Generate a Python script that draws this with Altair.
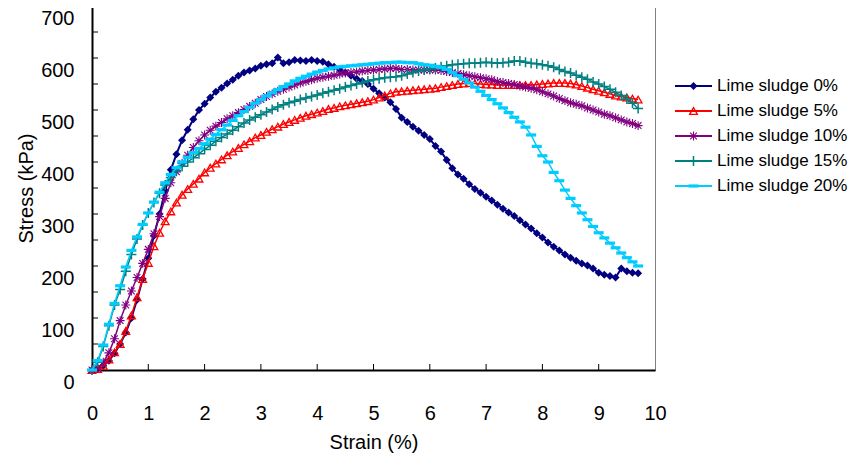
import altair as alt
import pandas as pd

STRAIN = [0.0, 0.1, 0.2, 0.3, 0.4, 0.5, 0.6, 0.7, 0.8, 0.9,
          1.0, 1.1, 1.2, 1.3, 1.4, 1.5, 1.6, 1.7, 1.8, 1.9,
          2.0, 2.1, 2.2, 2.3, 2.4, 2.5, 2.6, 2.7, 2.8, 2.9,
          3.0, 3.1, 3.2, 3.3, 3.4, 3.5, 3.6, 3.7, 3.8, 3.9,
          4.0, 4.1, 4.2, 4.3, 4.4, 4.5, 4.6, 4.7, 4.8, 4.9,
          5.0, 5.1, 5.2, 5.3, 5.4, 5.5, 5.6, 5.7, 5.8, 5.9,
          6.0, 6.1, 6.2, 6.3, 6.4, 6.5, 6.6, 6.7, 6.8, 6.9,
          7.0, 7.1, 7.2, 7.3, 7.4, 7.5, 7.6, 7.7, 7.8, 7.9,
          8.0, 8.1, 8.2, 8.3, 8.4, 8.5, 8.6, 8.7, 8.8, 8.9,
          9.0, 9.1, 9.2, 9.3, 9.4, 9.5, 9.6, 9.7]

S0 = [0, 3, 8, 18, 32, 50, 72, 100, 135, 175,
      215, 258, 300, 345, 385, 415, 442, 462, 482, 500,
      512, 524, 535, 543, 551, 558, 566, 572, 576, 580,
      585, 588, 590, 601, 590, 592, 596, 595, 594, 596,
      594, 593, 588, 583, 578, 572, 566, 560, 556, 550,
      541, 532, 524, 515, 502, 485, 477, 468, 460, 452,
      444, 431, 420, 404, 388, 376, 368, 357, 348, 341,
      333, 326, 318, 310, 303, 296, 288, 280, 272, 263,
      255, 245, 237, 230, 222, 216, 210, 205, 201, 195,
      187, 183, 181, 178, 195, 190, 187, 186]

S5 = [0, 2, 8, 20, 34, 50, 75, 105, 140, 175,
      206, 238, 264, 286, 305, 322, 337, 348, 358, 368,
      380, 389, 397, 405, 413, 420, 427, 434, 440, 447,
      452, 458, 463, 468, 473, 477, 481, 485, 489, 492,
      495, 498, 502, 504, 507, 509, 511, 513, 515, 517,
      520, 524, 528, 532, 535, 536, 537, 538, 539, 540,
      541, 542, 544, 546, 548, 550, 551, 552, 551, 550,
      549, 549, 548, 548, 548, 548, 548, 548, 548, 549,
      550, 551, 552, 552, 552, 551, 549, 546, 543, 540,
      537, 534, 531, 528, 526, 524, 522, 520]

S10 = [0, 4, 15, 33, 60, 95, 125, 152, 178, 205,
       232, 262, 295, 330, 360, 381, 397, 413, 428, 441,
       452, 461, 469, 476, 483, 489, 495, 501, 507, 513,
       520, 526, 531, 536, 540, 544, 548, 552, 555, 558,
       561, 563, 565, 567, 569, 571, 572, 573, 575, 576,
       577, 578, 579, 580, 580, 578, 578, 577, 577, 577,
       577, 577, 576, 574, 572, 570, 568, 566, 564, 562,
       560, 558, 555, 553, 551, 549, 546, 544, 542, 539,
       535, 531, 527, 522, 518, 514, 511, 508, 504, 500,
       496, 492, 489, 485, 481, 477, 474, 470]

S15 = [0, 15, 45, 85, 125, 155, 190, 222, 252, 279,
       302, 322, 340, 356, 370, 383, 392, 400, 408, 416,
       424, 432, 440, 447, 454, 461, 468, 475, 481, 486,
       491, 496, 501, 506, 510, 514, 517, 520, 523, 526,
       529, 532, 535, 538, 541, 544, 547, 550, 553, 556,
       558, 560, 562, 563, 564, 566, 569, 572, 575, 577,
       579, 581, 583, 585, 587, 588, 589, 590, 590, 591,
       592, 591, 590, 591, 592, 594, 594, 592, 590, 589,
       587, 585, 582, 578, 574, 571, 567, 563, 559, 554,
       550, 545, 540, 534, 528, 521, 513, 503]

S20 = [0, 18, 48, 88, 128, 162, 198, 230, 256, 280,
       302, 323, 342, 360, 376, 389, 400, 409, 418, 426,
       435, 444, 453, 462, 471, 480, 489, 497, 505, 513,
       520, 527, 533, 539, 545, 550, 556, 561, 565, 569,
       573, 576, 579, 581, 583, 584, 585, 586, 587, 588,
       589, 590, 591, 591, 592, 592, 591, 591, 589, 587,
       586, 584, 582, 578, 572, 566, 559, 552, 544, 536,
       528, 520, 512, 504, 495, 486, 477, 467, 452, 430,
       412, 400, 380, 364, 346, 330, 316, 302, 289, 276,
       264, 254, 244, 235, 225, 216, 208, 200]

NAMES = ["Lime sludge 0%", "Lime sludge 5%", "Lime sludge 10%",
         "Lime sludge 15%", "Lime sludge 20%"]
LEG_ROW = [0, 1, 2, 3, 4]
COLORS = ["#000080", "#FF0000", "#800080", "#008080", "#00CCFF"]
X_LABELS = [0, 1, 2, 3, 4, 5, 6, 7, 8, 9, 10]
Y_LABELS = [0, 100, 200, 300, 400, 500, 600, 700]
X_TICKS = [1, 2, 3, 4, 5, 6, 7, 8, 9]
Y_TICKS = [50, 100, 150, 200, 250, 300, 350, 400, 450, 500, 550, 600, 650, 700]

rows = []
for name, vals in zip(NAMES, [S0, S5, S10, S15, S20]):
    for s, v in zip(STRAIN, vals):
        rows.append({"strain": s, "stress": v, "series": name})
df = pd.DataFrame(rows)
leg_df = pd.DataFrame({"series": NAMES, "row": LEG_ROW})

FONT = "Liberation Sans"
W, H = 563, 364

MARKERS = [
    dict(shape="diamond", filled=True, size=64, strokeWidth=1),
    dict(shape="triangle-up", filled=False, size=60, strokeWidth=1.3),
    dict(shape="M-1,0L1,0M0,-1L0,1M-0.75,-0.75L0.75,0.75M-0.75,0.75L0.75,-0.75",
         filled=False, size=80, strokeWidth=1.1),
    dict(shape="M-1,0L1,0M0,-1L0,1", filled=False, size=100, strokeWidth=1.5),
    dict(shape="M-1,-0.32L1,-0.32L1,0.32L-1,0.32Z", filled=True, size=100, strokeWidth=0),
]
LINE_W = [2, 1.5, 1.5, 1.5, 1.5]

xs = alt.Scale(domain=[0, 10], nice=False, zero=False)
ys = alt.Scale(domain=[0, 700], nice=False)

x_axis = alt.Axis(
    values=X_LABELS, format="d", labelFlush=False, ticks=False, grid=False,
    domainColor="black", domainWidth=2,
    labelFontSize=20, labelPadding=33, labelFont=FONT, labelColor="black",
    title="Strain (%)", titleFontSize=20, titleFont=FONT, titleFontWeight="normal",
    titlePadding=9, titleColor="black")
y_axis = alt.Axis(
    values=Y_LABELS, format="d", labelFlush=False, ticks=False, grid=False,
    domainColor="black", domainWidth=2,
    labelFontSize=20, labelPadding=18, labelFont=FONT, labelColor="black",
    labelBaseline="top", labelOffset=2,
    title="Stress (kPa)", titleFontSize=20, titleFont=FONT, titleFontWeight="normal",
    titlePadding=4, titleColor="black")

layers = []
for i, name in enumerate(NAMES):
    base = alt.Chart(df).transform_filter(alt.datum.series == name)
    layers.append(base.mark_line(color=COLORS[i], strokeWidth=LINE_W[i]).encode(
        x=alt.X("strain:Q", scale=xs, axis=x_axis),
        y=alt.Y("stress:Q", scale=ys, axis=y_axis),
        order="strain:Q"))
    m = MARKERS[i]
    layers.append(base.mark_point(
        shape=m["shape"], filled=m["filled"], size=m["size"],
        strokeWidth=m["strokeWidth"], color=COLORS[i], opacity=1).encode(
        x=alt.X("strain:Q", scale=xs, axis=x_axis),
        y=alt.Y("stress:Q", scale=ys, axis=y_axis)))

xt = alt.Chart(pd.DataFrame({"t": X_TICKS})).mark_rule(color="black", strokeWidth=1).encode(
    x=alt.X("t:Q", scale=xs, axis=x_axis), y=alt.value(H), y2=alt.value(H - 6))
yt = alt.Chart(pd.DataFrame({"t": Y_TICKS})).mark_rule(color="black", strokeWidth=1).encode(
    y=alt.Y("t:Q", scale=ys, axis=y_axis), x=alt.value(0), x2=alt.value(6))

plot = alt.layer(*layers, xt, yt).properties(
    width=W, height=H, view=alt.ViewBackground(stroke="#808080", strokeWidth=1))

ly = alt.Y("row:Q", scale=alt.Scale(domain=[0, 4], range=[80, 180], nice=False, zero=False),
           axis=None)
leg_layers = []
for i, name in enumerate(NAMES):
    m = MARKERS[i]
    b = alt.Chart(leg_df).transform_filter(alt.datum.series == name)
    leg_layers.append(b.mark_rule(strokeWidth=2, color=COLORS[i]).encode(
        y=ly, x=alt.value(7), x2=alt.value(44)))
    leg_layers.append(b.mark_point(
        shape=m["shape"], filled=m["filled"], size=m["size"],
        strokeWidth=m["strokeWidth"], color=COLORS[i], opacity=1).encode(
        y=ly, x=alt.value(25.5)))
leg_layers.append(alt.Chart(leg_df).mark_text(
    align="left", baseline="middle", fontSize=17, font=FONT, color="black").encode(
    y=ly, x=alt.value(49), text="series:N"))
legend = alt.layer(*leg_layers).properties(width=165, height=H)

chart = alt.hconcat(plot, legend, spacing=0).properties(
    padding={"left": 8, "top": -3, "right": 0, "bottom": 0}
).configure(font=FONT, view=alt.ViewConfig(stroke="transparent"))

chart.save("out.html", embed_options={"renderer": "svg", "actions": False})
